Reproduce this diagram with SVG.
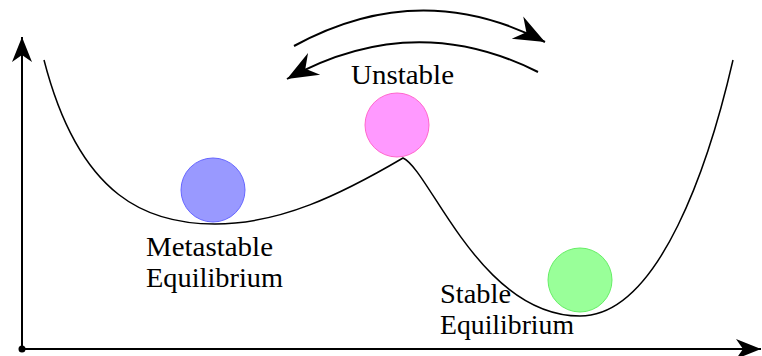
<svg xmlns="http://www.w3.org/2000/svg" width="762" height="356" viewBox="0 0 762 356">
<style>
.lbl{font-family:"Liberation Serif","DejaVu Serif",serif;font-size:27px;fill:#000}
.ln{fill:none;stroke:#000;stroke-width:1.5}
.ax{fill:none;stroke:#000;stroke-width:2}
</style>
<defs>
<marker id="stealth" markerUnits="userSpaceOnUse" markerWidth="30" markerHeight="24" viewBox="-28 -12 30 24" refX="0" refY="0" orient="auto">
<path d="M0,0 L-25,-10 L-18,0 L-25,10 Z" fill="#000"/>
</marker>
<marker id="stealthL" markerUnits="userSpaceOnUse" markerWidth="36" markerHeight="30" viewBox="-34 -15 36 30" refX="0" refY="0" orient="auto">
<path d="M0,0 L-31,-12.5 L-21,0 L-31,12.5 Z" fill="#000"/>
</marker>
</defs>
<g id="connectors">
<line class="ax" x1="22" y1="349" x2="22" y2="37" marker-end="url(#stealth)"/>
<line class="ax" x1="22" y1="349" x2="761" y2="349" marker-end="url(#stealth)"/>
<circle cx="22" cy="349" r="3.5" fill="#000"/>
<path class="ln" d="M44,60 C80,200 150,224 215,224 C280,224 340,195 403,158 C430,170 480,316 580,316 C660,316 710,160 733,60"/>
<path class="ax" d="M294,46 Q420,-23 545,42" marker-end="url(#stealthL)"/>
<path class="ax" d="M538,72 Q413,9 287,79" marker-end="url(#stealthL)"/>
</g>
<g id="metastable">
<circle cx="213" cy="190" r="32" fill="#9999ff" stroke="#6666ff" stroke-width="1"/>
<text class="lbl" x="146" y="256" textLength="127" lengthAdjust="spacingAndGlyphs">Metastable</text>
<text class="lbl" x="146" y="287" textLength="137" lengthAdjust="spacingAndGlyphs">Equilibrium</text>
</g>
<g id="unstable">
<circle cx="397" cy="125" r="32" fill="#ff99ff" stroke="#ff66cc" stroke-width="1"/>
<text class="lbl" x="351" y="84" textLength="103" lengthAdjust="spacingAndGlyphs">Unstable</text>
</g>
<g id="stable">
<circle cx="580" cy="280" r="32" fill="#99ff99" stroke="#66ee66" stroke-width="1"/>
<text class="lbl" x="440" y="303" textLength="71" lengthAdjust="spacingAndGlyphs">Stable</text>
<text class="lbl" x="440" y="334" textLength="134" lengthAdjust="spacingAndGlyphs">Equilibrium</text>
</g>
</svg>
